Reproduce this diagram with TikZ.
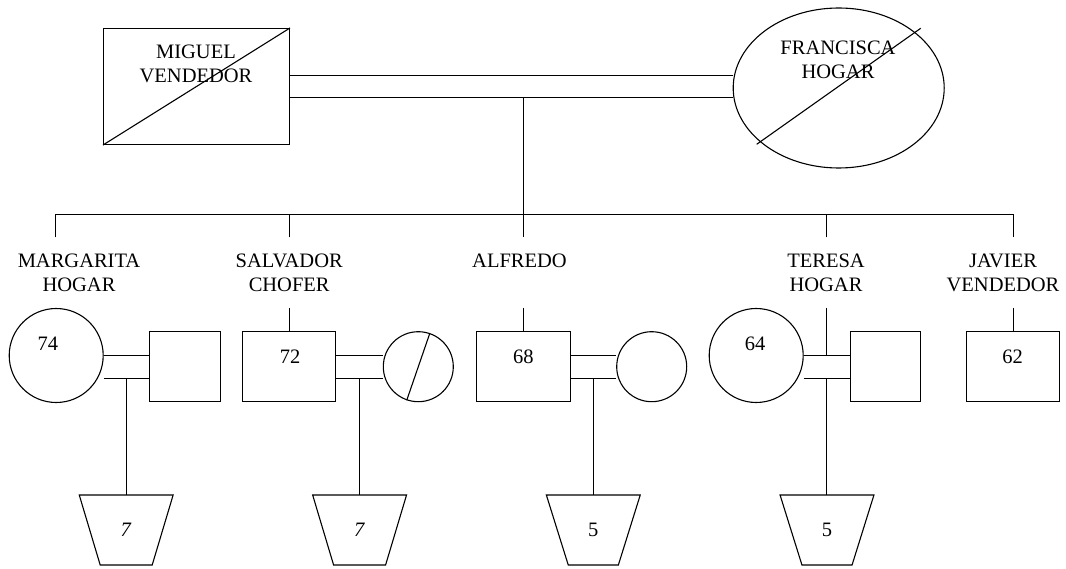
\documentclass[tikz,border=0pt]{standalone}
\usepackage{fontspec}
\setmainfont{Liberation Serif}
\usetikzlibrary{shapes.geometric,calc}
\begin{document}
\begin{tikzpicture}[x=1pt,y=-1pt,
  txt/.style={font=\fontsize{20.5}{24}\selectfont, inner sep=0pt, align=center},
  conn/.style={line width=1.1pt},
  male/.style={draw, rectangle, line width=1.1pt, fill=white, inner sep=0pt, minimum height=70pt},
  female/.style={draw, circle, line width=1.1pt, fill=white, inner sep=0pt},
  femaleoval/.style={draw, ellipse, line width=1.1pt, fill=white, inner sep=0pt},
  kid/.style={draw, trapezium, line width=1.1pt, fill=white, inner sep=0pt,
    trapezium left angle=71.8, trapezium right angle=71.8, trapezium stretches=true,
    minimum width=94pt, minimum height=70pt, shape border rotate=180,
    font=\fontsize{20.5}{24}\selectfont}]
\useasboundingbox (0,0) rectangle (1066,569);

% ---- parents ----
\node[male, minimum width=186pt, minimum height=116pt] (miguel) at (196.5,86.5) {};
\draw[conn] (miguel.south west) -- (miguel.north east);
\node[txt] (miguelT) at (196,63.5) {MIGUEL\\VENDEDOR};

\node[femaleoval, minimum width=211pt, minimum height=160pt] (francisca) at (838.7,88) {};
\draw[conn] ($(francisca.center)+(-82,56.3)$) -- ($(francisca.center)+(82,-59.7)$);
\node[txt] (franciscaT) at (838,60) {FRANCISCA\\HOGAR};

\coordinate (pU) at ($(miguel.east)+(0,-11)$);
\coordinate (pL) at ($(miguel.east)+(0,11)$);
\draw[conn] (pU) -- (pU -| francisca.west);
\draw[conn] (pL) -- (pL -| francisca.west);

% ---- sibling line ----
\coordinate (sib) at (523.5,214.5);
\coordinate (sibL) at (55.5,214.5);
\coordinate (sibR) at (1013.5,214.5);
\coordinate (dMar) at (55.5,237.3);
\coordinate (dSal) at (289.5,237.3);
\coordinate (dAlf) at (523.5,237.3);
\coordinate (dTer) at (826.5,237.3);
\coordinate (dJav) at (1013.5,237.3);
\draw[conn] (pL -| sib) -- (dAlf);
\draw[conn] (dMar) -- (sibL) -- (sibR) -- (dJav);
\draw[conn] (dSal) -- (dSal |- sib);
\draw[conn] (dTer) -- (dTer |- sib);

% ---- labels ----
\node[txt] (lMar) at (79,273) {MARGARITA\\HOGAR};
\node[txt] (lSal) at (289.2,273) {SALVADOR\\CHOFER};
\node[txt] (lAlf) at (519.5,261) {ALFREDO};
\node[txt] (lTer) at (826,273) {TERESA\\HOGAR};
\node[txt] (lJav) at (1003,273) {JAVIER\\VENDEDOR};

% ---- second generation ----
\node[female, minimum size=94pt] (mar) at (56.2,355.5) {};
\node[male, minimum width=71pt] (marH) at (185,366.5) {};
\node[male, minimum width=93pt] (sal) at (289,366.5) {};
\node[female, minimum size=70pt] (salW) at (418.3,366.7) {};
\draw[conn] (salW.251.5) -- (salW.71.5);
\node[male, minimum width=94pt] (alf) at (523.5,366.5) {};
\node[female, minimum size=70pt] (alfW) at (651.7,366.7) {};
\node[female, minimum size=94pt] (ter) at (756.2,355.5) {};
\node[male, minimum width=70pt] (terH) at (885.5,366.5) {};
\node[male, minimum width=93pt] (jav) at (1013,366.5) {};

\node[txt] (n74) at (48,344) {74};
\node[txt] (n72) at (290,356.7) {72};
\node[txt] (n68) at (523.3,356.7) {68};
\node[txt] (n64) at (755,344) {64};
\node[txt] (n62) at (1012.7,356.7) {62};

\coordinate (tSal) at (289.5,308.3);
\coordinate (tAlf) at (523.5,308.3);
\coordinate (tJav) at (1013.5,308.3);
\coordinate (tTer) at (826.5,308.3);
\draw[conn] (tSal) -- (tSal |- sal.north);
\draw[conn] (tAlf) -- (tAlf |- alf.north);
\draw[conn] (tJav) -- (tJav |- jav.north);

% ---- couples ----
\coordinate (mU) at (mar.east);
\coordinate (mL) at ($(mar.east)+(0,23)$);
\draw[conn] (mU) -- (mU -| marH.west);
\draw[conn] (mL) -- (mL -| marH.west);
\coordinate (mC) at ($(mL)!0.5!(mL -| marH.west)$);

\coordinate (sU) at ($(sal.east)+(0,-11)$);
\coordinate (sL) at ($(sal.east)+(0,12)$);
\draw[conn] (sU) -- (sU -| salW.west);
\draw[conn] (sL) -- (sL -| salW.west);
\coordinate (sC) at ($(sL)!0.5!(sL -| salW.west)$);

\coordinate (aU) at ($(alf.east)+(0,-11)$);
\coordinate (aL) at ($(alf.east)+(0,12)$);
\draw[conn] (aU) -- (aU -| alfW.west);
\draw[conn] (aL) -- (aL -| alfW.west);
\coordinate (aC) at ($(aL)!0.5!(aL -| alfW.west)$);

\coordinate (tU) at (ter.east);
\coordinate (tL) at ($(ter.east)+(0,23)$);
\draw[conn] (tU) -- (tU -| terH.west);
\draw[conn] (tL) -- (tL -| terH.west);
\coordinate (tC) at ($(tL)!0.5!(tL -| terH.west)$);
\draw[conn] (tTer) -- (tTer |- tU);

% ---- grandchildren ----
\node[kid] (k1) at (126.2,530) {\textit{7}};
\node[kid] (k2) at (359.6,530) {\textit{7}};
\node[kid] (k3) at (593.3,530) {5};
\node[kid] (k4) at (827,530) {5};

\draw[conn] (mC) -- ($(mC |- k1.center)+(0,-35)$);
\draw[conn] (sC) -- ($(sC |- k2.center)+(0,-35)$);
\draw[conn] (aC) -- ($(aC |- k3.center)+(0,-35)$);
\draw[conn] (tC) -- ($(tC |- k4.center)+(0,-35)$);
\end{tikzpicture}
\end{document}
